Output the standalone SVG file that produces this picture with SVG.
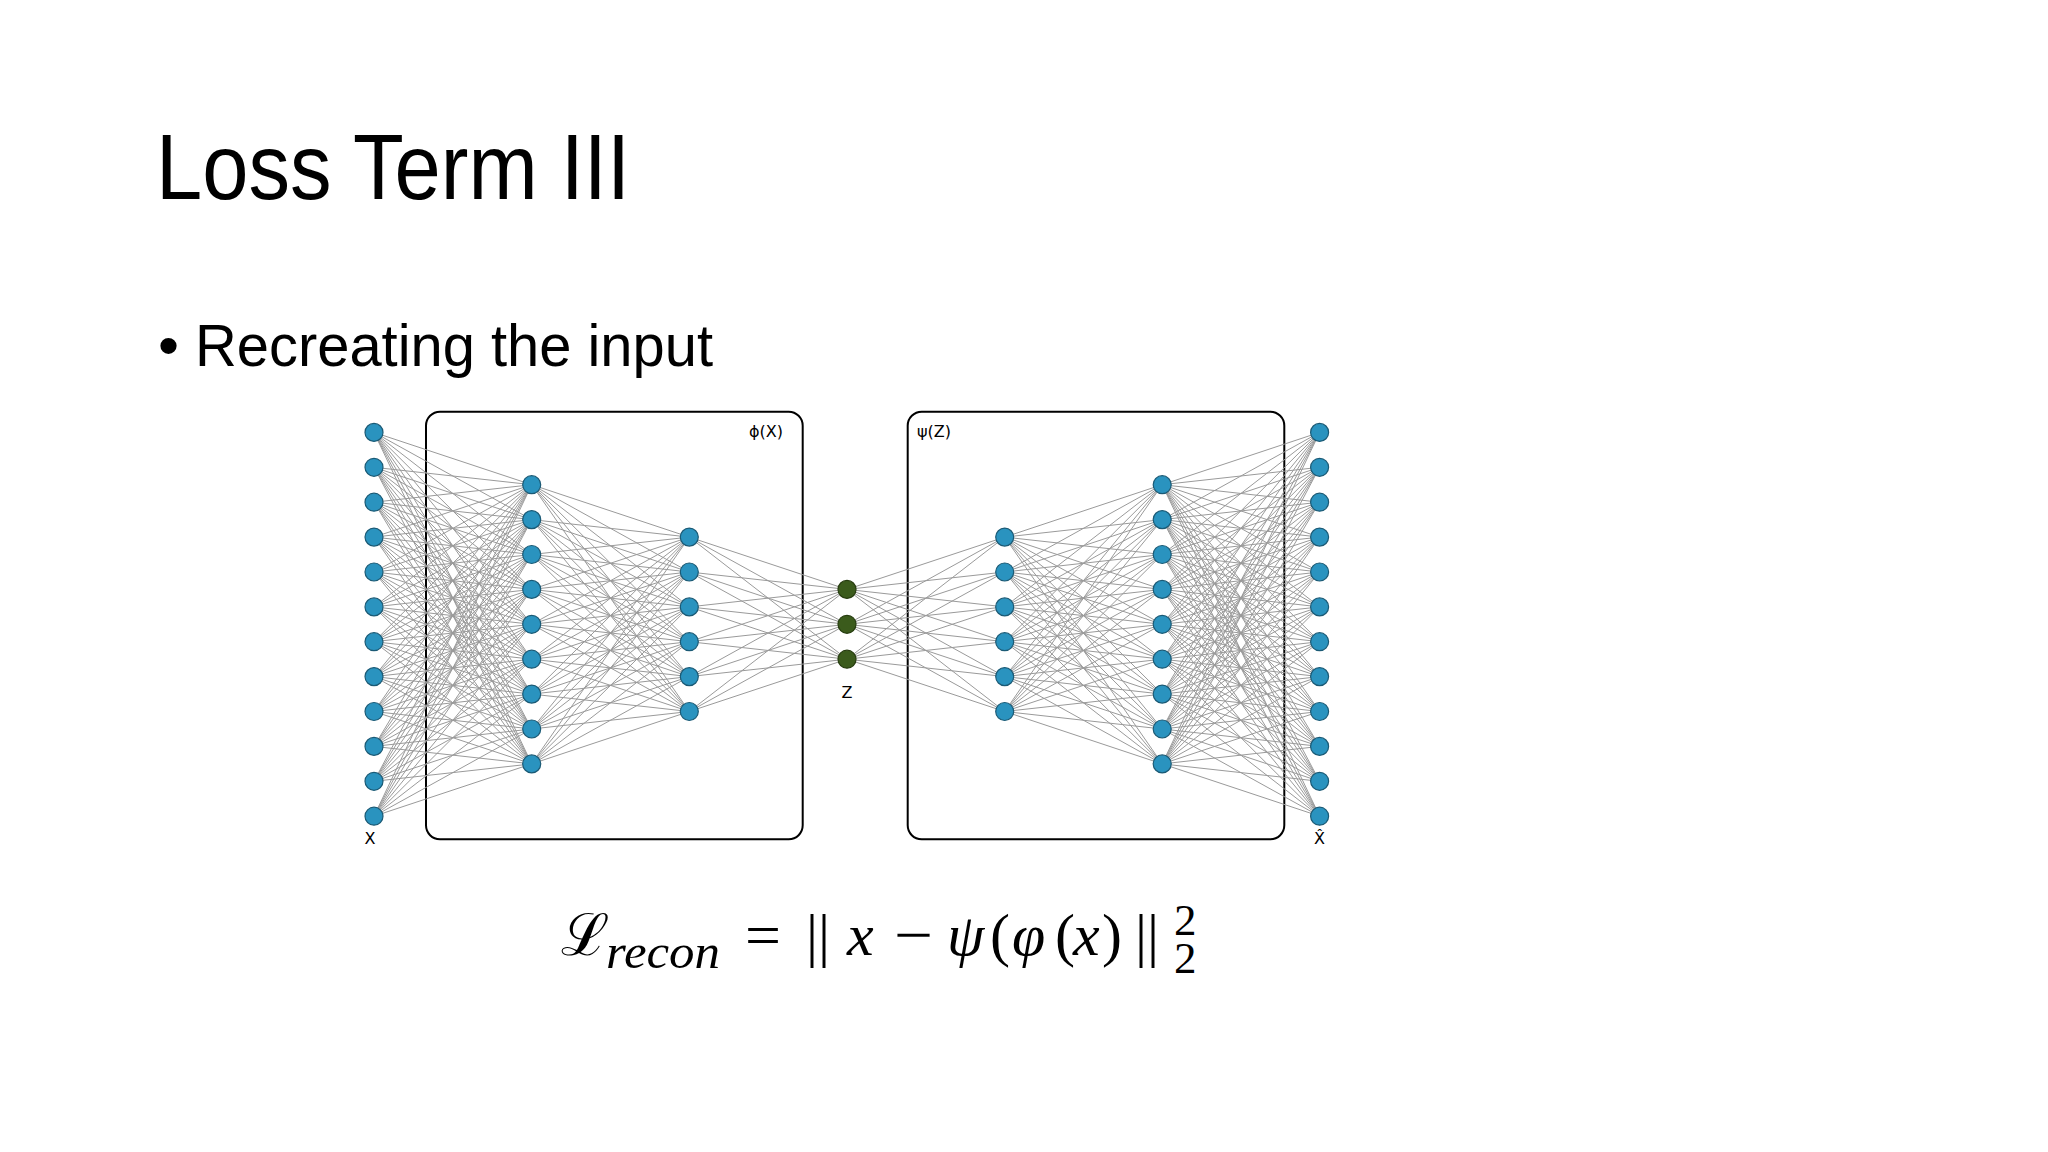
<svg xmlns="http://www.w3.org/2000/svg" width="2048" height="1152" viewBox="0 0 2048 1152">
<style>
.edge{fill:none;stroke:#9a9a9a;stroke-width:1}
.n{fill:#2a93bf;stroke:#1b5a75;stroke-width:1.2}
.z{fill:#3b5b1c;stroke:#273d10;stroke-width:1.2}
.box{fill:none;stroke:#000;stroke-width:2}
.lbl{font-family:"DejaVu Sans","Liberation Sans",sans-serif;font-size:16px;fill:#000}
.h{font-family:"Liberation Sans",Arial,sans-serif;fill:#000}
.m{font-family:"Liberation Serif","Times New Roman",serif;fill:#000;font-size:60px}
.i{font-style:italic}
.sub{font-size:48px}
.scr{font-size:45px}
</style>
<rect width="2048" height="1152" fill="#fff"/>
<text class="h" x="156" y="198.5" font-size="93" textLength="474" lengthAdjust="spacingAndGlyphs">Loss Term III</text>
<text class="h" x="158" y="365.7" font-size="60">•</text>
<text class="h" x="195" y="365.7" font-size="60" textLength="518" lengthAdjust="spacingAndGlyphs">Recreating the input</text>

<g id="encoder">
<rect class="box" x="426" y="411.7" width="376.7" height="427.6" rx="14"/>
<text class="lbl" x="783" y="436.5" text-anchor="end">ϕ(X)</text>
</g>
<g id="decoder">
<rect class="box" x="907.7" y="411.7" width="376.6" height="427.6" rx="14"/>
<text class="lbl" x="917" y="436.5">ψ(Z)</text>
</g>

<g id="connectors" class="edge">
<path d="M374 432.4L531.7 484.7M374 432.4L531.7 519.6M374 432.4L531.7 554.5M374 432.4L531.7 589.4M374 432.4L531.7 624.3M374 432.4L531.7 659.2M374 432.4L531.7 694.1M374 432.4L531.7 729M374 432.4L531.7 763.9"/>
<path d="M374 467.3L531.7 484.7M374 467.3L531.7 519.6M374 467.3L531.7 554.5M374 467.3L531.7 589.4M374 467.3L531.7 624.3M374 467.3L531.7 659.2M374 467.3L531.7 694.1M374 467.3L531.7 729M374 467.3L531.7 763.9"/>
<path d="M374 502.2L531.7 484.7M374 502.2L531.7 519.6M374 502.2L531.7 554.5M374 502.2L531.7 589.4M374 502.2L531.7 624.3M374 502.2L531.7 659.2M374 502.2L531.7 694.1M374 502.2L531.7 729M374 502.2L531.7 763.9"/>
<path d="M374 537.1L531.7 484.7M374 537.1L531.7 519.6M374 537.1L531.7 554.5M374 537.1L531.7 589.4M374 537.1L531.7 624.3M374 537.1L531.7 659.2M374 537.1L531.7 694.1M374 537.1L531.7 729M374 537.1L531.7 763.9"/>
<path d="M374 572L531.7 484.7M374 572L531.7 519.6M374 572L531.7 554.5M374 572L531.7 589.4M374 572L531.7 624.3M374 572L531.7 659.2M374 572L531.7 694.1M374 572L531.7 729M374 572L531.7 763.9"/>
<path d="M374 606.9L531.7 484.7M374 606.9L531.7 519.6M374 606.9L531.7 554.5M374 606.9L531.7 589.4M374 606.9L531.7 624.3M374 606.9L531.7 659.2M374 606.9L531.7 694.1M374 606.9L531.7 729M374 606.9L531.7 763.9"/>
<path d="M374 641.7L531.7 484.7M374 641.7L531.7 519.6M374 641.7L531.7 554.5M374 641.7L531.7 589.4M374 641.7L531.7 624.3M374 641.7L531.7 659.2M374 641.7L531.7 694.1M374 641.7L531.7 729M374 641.7L531.7 763.9"/>
<path d="M374 676.6L531.7 484.7M374 676.6L531.7 519.6M374 676.6L531.7 554.5M374 676.6L531.7 589.4M374 676.6L531.7 624.3M374 676.6L531.7 659.2M374 676.6L531.7 694.1M374 676.6L531.7 729M374 676.6L531.7 763.9"/>
<path d="M374 711.5L531.7 484.7M374 711.5L531.7 519.6M374 711.5L531.7 554.5M374 711.5L531.7 589.4M374 711.5L531.7 624.3M374 711.5L531.7 659.2M374 711.5L531.7 694.1M374 711.5L531.7 729M374 711.5L531.7 763.9"/>
<path d="M374 746.4L531.7 484.7M374 746.4L531.7 519.6M374 746.4L531.7 554.5M374 746.4L531.7 589.4M374 746.4L531.7 624.3M374 746.4L531.7 659.2M374 746.4L531.7 694.1M374 746.4L531.7 729M374 746.4L531.7 763.9"/>
<path d="M374 781.3L531.7 484.7M374 781.3L531.7 519.6M374 781.3L531.7 554.5M374 781.3L531.7 589.4M374 781.3L531.7 624.3M374 781.3L531.7 659.2M374 781.3L531.7 694.1M374 781.3L531.7 729M374 781.3L531.7 763.9"/>
<path d="M374 816.2L531.7 484.7M374 816.2L531.7 519.6M374 816.2L531.7 554.5M374 816.2L531.7 589.4M374 816.2L531.7 624.3M374 816.2L531.7 659.2M374 816.2L531.7 694.1M374 816.2L531.7 729M374 816.2L531.7 763.9"/>

<path d="M531.7 484.7L689.3 537.1M531.7 484.7L689.3 572M531.7 484.7L689.3 606.9M531.7 484.7L689.3 641.7M531.7 484.7L689.3 676.6M531.7 484.7L689.3 711.5"/>
<path d="M531.7 519.6L689.3 537.1M531.7 519.6L689.3 572M531.7 519.6L689.3 606.9M531.7 519.6L689.3 641.7M531.7 519.6L689.3 676.6M531.7 519.6L689.3 711.5"/>
<path d="M531.7 554.5L689.3 537.1M531.7 554.5L689.3 572M531.7 554.5L689.3 606.9M531.7 554.5L689.3 641.7M531.7 554.5L689.3 676.6M531.7 554.5L689.3 711.5"/>
<path d="M531.7 589.4L689.3 537.1M531.7 589.4L689.3 572M531.7 589.4L689.3 606.9M531.7 589.4L689.3 641.7M531.7 589.4L689.3 676.6M531.7 589.4L689.3 711.5"/>
<path d="M531.7 624.3L689.3 537.1M531.7 624.3L689.3 572M531.7 624.3L689.3 606.9M531.7 624.3L689.3 641.7M531.7 624.3L689.3 676.6M531.7 624.3L689.3 711.5"/>
<path d="M531.7 659.2L689.3 537.1M531.7 659.2L689.3 572M531.7 659.2L689.3 606.9M531.7 659.2L689.3 641.7M531.7 659.2L689.3 676.6M531.7 659.2L689.3 711.5"/>
<path d="M531.7 694.1L689.3 537.1M531.7 694.1L689.3 572M531.7 694.1L689.3 606.9M531.7 694.1L689.3 641.7M531.7 694.1L689.3 676.6M531.7 694.1L689.3 711.5"/>
<path d="M531.7 729L689.3 537.1M531.7 729L689.3 572M531.7 729L689.3 606.9M531.7 729L689.3 641.7M531.7 729L689.3 676.6M531.7 729L689.3 711.5"/>
<path d="M531.7 763.9L689.3 537.1M531.7 763.9L689.3 572M531.7 763.9L689.3 606.9M531.7 763.9L689.3 641.7M531.7 763.9L689.3 676.6M531.7 763.9L689.3 711.5"/>

<path d="M689.3 537.1L847 589.4M689.3 537.1L847 624.3M689.3 537.1L847 659.2"/>
<path d="M689.3 572L847 589.4M689.3 572L847 624.3M689.3 572L847 659.2"/>
<path d="M689.3 606.9L847 589.4M689.3 606.9L847 624.3M689.3 606.9L847 659.2"/>
<path d="M689.3 641.7L847 589.4M689.3 641.7L847 624.3M689.3 641.7L847 659.2"/>
<path d="M689.3 676.6L847 589.4M689.3 676.6L847 624.3M689.3 676.6L847 659.2"/>
<path d="M689.3 711.5L847 589.4M689.3 711.5L847 624.3M689.3 711.5L847 659.2"/>

<path d="M847 589.4L1004.7 537.1M847 589.4L1004.7 572M847 589.4L1004.7 606.9M847 589.4L1004.7 641.7M847 589.4L1004.7 676.6M847 589.4L1004.7 711.5"/>
<path d="M847 624.3L1004.7 537.1M847 624.3L1004.7 572M847 624.3L1004.7 606.9M847 624.3L1004.7 641.7M847 624.3L1004.7 676.6M847 624.3L1004.7 711.5"/>
<path d="M847 659.2L1004.7 537.1M847 659.2L1004.7 572M847 659.2L1004.7 606.9M847 659.2L1004.7 641.7M847 659.2L1004.7 676.6M847 659.2L1004.7 711.5"/>

<path d="M1004.7 537.1L1162.2 484.7M1004.7 537.1L1162.2 519.6M1004.7 537.1L1162.2 554.5M1004.7 537.1L1162.2 589.4M1004.7 537.1L1162.2 624.3M1004.7 537.1L1162.2 659.2M1004.7 537.1L1162.2 694.1M1004.7 537.1L1162.2 729M1004.7 537.1L1162.2 763.9"/>
<path d="M1004.7 572L1162.2 484.7M1004.7 572L1162.2 519.6M1004.7 572L1162.2 554.5M1004.7 572L1162.2 589.4M1004.7 572L1162.2 624.3M1004.7 572L1162.2 659.2M1004.7 572L1162.2 694.1M1004.7 572L1162.2 729M1004.7 572L1162.2 763.9"/>
<path d="M1004.7 606.9L1162.2 484.7M1004.7 606.9L1162.2 519.6M1004.7 606.9L1162.2 554.5M1004.7 606.9L1162.2 589.4M1004.7 606.9L1162.2 624.3M1004.7 606.9L1162.2 659.2M1004.7 606.9L1162.2 694.1M1004.7 606.9L1162.2 729M1004.7 606.9L1162.2 763.9"/>
<path d="M1004.7 641.7L1162.2 484.7M1004.7 641.7L1162.2 519.6M1004.7 641.7L1162.2 554.5M1004.7 641.7L1162.2 589.4M1004.7 641.7L1162.2 624.3M1004.7 641.7L1162.2 659.2M1004.7 641.7L1162.2 694.1M1004.7 641.7L1162.2 729M1004.7 641.7L1162.2 763.9"/>
<path d="M1004.7 676.6L1162.2 484.7M1004.7 676.6L1162.2 519.6M1004.7 676.6L1162.2 554.5M1004.7 676.6L1162.2 589.4M1004.7 676.6L1162.2 624.3M1004.7 676.6L1162.2 659.2M1004.7 676.6L1162.2 694.1M1004.7 676.6L1162.2 729M1004.7 676.6L1162.2 763.9"/>
<path d="M1004.7 711.5L1162.2 484.7M1004.7 711.5L1162.2 519.6M1004.7 711.5L1162.2 554.5M1004.7 711.5L1162.2 589.4M1004.7 711.5L1162.2 624.3M1004.7 711.5L1162.2 659.2M1004.7 711.5L1162.2 694.1M1004.7 711.5L1162.2 729M1004.7 711.5L1162.2 763.9"/>

<path d="M1162.2 484.7L1319.6 432.4M1162.2 484.7L1319.6 467.3M1162.2 484.7L1319.6 502.2M1162.2 484.7L1319.6 537.1M1162.2 484.7L1319.6 572M1162.2 484.7L1319.6 606.9M1162.2 484.7L1319.6 641.7M1162.2 484.7L1319.6 676.6M1162.2 484.7L1319.6 711.5M1162.2 484.7L1319.6 746.4M1162.2 484.7L1319.6 781.3M1162.2 484.7L1319.6 816.2"/>
<path d="M1162.2 519.6L1319.6 432.4M1162.2 519.6L1319.6 467.3M1162.2 519.6L1319.6 502.2M1162.2 519.6L1319.6 537.1M1162.2 519.6L1319.6 572M1162.2 519.6L1319.6 606.9M1162.2 519.6L1319.6 641.7M1162.2 519.6L1319.6 676.6M1162.2 519.6L1319.6 711.5M1162.2 519.6L1319.6 746.4M1162.2 519.6L1319.6 781.3M1162.2 519.6L1319.6 816.2"/>
<path d="M1162.2 554.5L1319.6 432.4M1162.2 554.5L1319.6 467.3M1162.2 554.5L1319.6 502.2M1162.2 554.5L1319.6 537.1M1162.2 554.5L1319.6 572M1162.2 554.5L1319.6 606.9M1162.2 554.5L1319.6 641.7M1162.2 554.5L1319.6 676.6M1162.2 554.5L1319.6 711.5M1162.2 554.5L1319.6 746.4M1162.2 554.5L1319.6 781.3M1162.2 554.5L1319.6 816.2"/>
<path d="M1162.2 589.4L1319.6 432.4M1162.2 589.4L1319.6 467.3M1162.2 589.4L1319.6 502.2M1162.2 589.4L1319.6 537.1M1162.2 589.4L1319.6 572M1162.2 589.4L1319.6 606.9M1162.2 589.4L1319.6 641.7M1162.2 589.4L1319.6 676.6M1162.2 589.4L1319.6 711.5M1162.2 589.4L1319.6 746.4M1162.2 589.4L1319.6 781.3M1162.2 589.4L1319.6 816.2"/>
<path d="M1162.2 624.3L1319.6 432.4M1162.2 624.3L1319.6 467.3M1162.2 624.3L1319.6 502.2M1162.2 624.3L1319.6 537.1M1162.2 624.3L1319.6 572M1162.2 624.3L1319.6 606.9M1162.2 624.3L1319.6 641.7M1162.2 624.3L1319.6 676.6M1162.2 624.3L1319.6 711.5M1162.2 624.3L1319.6 746.4M1162.2 624.3L1319.6 781.3M1162.2 624.3L1319.6 816.2"/>
<path d="M1162.2 659.2L1319.6 432.4M1162.2 659.2L1319.6 467.3M1162.2 659.2L1319.6 502.2M1162.2 659.2L1319.6 537.1M1162.2 659.2L1319.6 572M1162.2 659.2L1319.6 606.9M1162.2 659.2L1319.6 641.7M1162.2 659.2L1319.6 676.6M1162.2 659.2L1319.6 711.5M1162.2 659.2L1319.6 746.4M1162.2 659.2L1319.6 781.3M1162.2 659.2L1319.6 816.2"/>
<path d="M1162.2 694.1L1319.6 432.4M1162.2 694.1L1319.6 467.3M1162.2 694.1L1319.6 502.2M1162.2 694.1L1319.6 537.1M1162.2 694.1L1319.6 572M1162.2 694.1L1319.6 606.9M1162.2 694.1L1319.6 641.7M1162.2 694.1L1319.6 676.6M1162.2 694.1L1319.6 711.5M1162.2 694.1L1319.6 746.4M1162.2 694.1L1319.6 781.3M1162.2 694.1L1319.6 816.2"/>
<path d="M1162.2 729L1319.6 432.4M1162.2 729L1319.6 467.3M1162.2 729L1319.6 502.2M1162.2 729L1319.6 537.1M1162.2 729L1319.6 572M1162.2 729L1319.6 606.9M1162.2 729L1319.6 641.7M1162.2 729L1319.6 676.6M1162.2 729L1319.6 711.5M1162.2 729L1319.6 746.4M1162.2 729L1319.6 781.3M1162.2 729L1319.6 816.2"/>
<path d="M1162.2 763.9L1319.6 432.4M1162.2 763.9L1319.6 467.3M1162.2 763.9L1319.6 502.2M1162.2 763.9L1319.6 537.1M1162.2 763.9L1319.6 572M1162.2 763.9L1319.6 606.9M1162.2 763.9L1319.6 641.7M1162.2 763.9L1319.6 676.6M1162.2 763.9L1319.6 711.5M1162.2 763.9L1319.6 746.4M1162.2 763.9L1319.6 781.3M1162.2 763.9L1319.6 816.2"/>
</g>

<g id="input-layer">
<g id="x1"><circle class="n" cx="374" cy="432.4" r="9"/></g>
<g id="x2"><circle class="n" cx="374" cy="467.3" r="9"/></g>
<g id="x3"><circle class="n" cx="374" cy="502.2" r="9"/></g>
<g id="x4"><circle class="n" cx="374" cy="537.1" r="9"/></g>
<g id="x5"><circle class="n" cx="374" cy="572" r="9"/></g>
<g id="x6"><circle class="n" cx="374" cy="606.9" r="9"/></g>
<g id="x7"><circle class="n" cx="374" cy="641.7" r="9"/></g>
<g id="x8"><circle class="n" cx="374" cy="676.6" r="9"/></g>
<g id="x9"><circle class="n" cx="374" cy="711.5" r="9"/></g>
<g id="x10"><circle class="n" cx="374" cy="746.4" r="9"/></g>
<g id="x11"><circle class="n" cx="374" cy="781.3" r="9"/></g>
<g id="x12"><circle class="n" cx="374" cy="816.2" r="9"/></g>
<text class="lbl" x="370" y="844" text-anchor="middle">X</text>
</g>

<g id="encoder-hidden1">
<g id="e1_1"><circle class="n" cx="531.7" cy="484.7" r="9"/></g>
<g id="e1_2"><circle class="n" cx="531.7" cy="519.6" r="9"/></g>
<g id="e1_3"><circle class="n" cx="531.7" cy="554.5" r="9"/></g>
<g id="e1_4"><circle class="n" cx="531.7" cy="589.4" r="9"/></g>
<g id="e1_5"><circle class="n" cx="531.7" cy="624.3" r="9"/></g>
<g id="e1_6"><circle class="n" cx="531.7" cy="659.2" r="9"/></g>
<g id="e1_7"><circle class="n" cx="531.7" cy="694.1" r="9"/></g>
<g id="e1_8"><circle class="n" cx="531.7" cy="729" r="9"/></g>
<g id="e1_9"><circle class="n" cx="531.7" cy="763.9" r="9"/></g>
</g>

<g id="encoder-hidden2">
<g id="e2_1"><circle class="n" cx="689.3" cy="537.1" r="9"/></g>
<g id="e2_2"><circle class="n" cx="689.3" cy="572" r="9"/></g>
<g id="e2_3"><circle class="n" cx="689.3" cy="606.9" r="9"/></g>
<g id="e2_4"><circle class="n" cx="689.3" cy="641.7" r="9"/></g>
<g id="e2_5"><circle class="n" cx="689.3" cy="676.6" r="9"/></g>
<g id="e2_6"><circle class="n" cx="689.3" cy="711.5" r="9"/></g>
</g>

<g id="latent">
<g id="z1"><circle class="z" cx="847" cy="589.4" r="9"/></g>
<g id="z2"><circle class="z" cx="847" cy="624.3" r="9"/></g>
<g id="z3"><circle class="z" cx="847" cy="659.2" r="9"/></g>
<text class="lbl" x="847" y="698" text-anchor="middle">Z</text>
</g>

<g id="decoder-hidden1">
<g id="d1_1"><circle class="n" cx="1004.7" cy="537.1" r="9"/></g>
<g id="d1_2"><circle class="n" cx="1004.7" cy="572" r="9"/></g>
<g id="d1_3"><circle class="n" cx="1004.7" cy="606.9" r="9"/></g>
<g id="d1_4"><circle class="n" cx="1004.7" cy="641.7" r="9"/></g>
<g id="d1_5"><circle class="n" cx="1004.7" cy="676.6" r="9"/></g>
<g id="d1_6"><circle class="n" cx="1004.7" cy="711.5" r="9"/></g>
</g>

<g id="decoder-hidden2">
<g id="d2_1"><circle class="n" cx="1162.2" cy="484.7" r="9"/></g>
<g id="d2_2"><circle class="n" cx="1162.2" cy="519.6" r="9"/></g>
<g id="d2_3"><circle class="n" cx="1162.2" cy="554.5" r="9"/></g>
<g id="d2_4"><circle class="n" cx="1162.2" cy="589.4" r="9"/></g>
<g id="d2_5"><circle class="n" cx="1162.2" cy="624.3" r="9"/></g>
<g id="d2_6"><circle class="n" cx="1162.2" cy="659.2" r="9"/></g>
<g id="d2_7"><circle class="n" cx="1162.2" cy="694.1" r="9"/></g>
<g id="d2_8"><circle class="n" cx="1162.2" cy="729" r="9"/></g>
<g id="d2_9"><circle class="n" cx="1162.2" cy="763.9" r="9"/></g>
</g>

<g id="output-layer">
<g id="y1"><circle class="n" cx="1319.6" cy="432.4" r="9"/></g>
<g id="y2"><circle class="n" cx="1319.6" cy="467.3" r="9"/></g>
<g id="y3"><circle class="n" cx="1319.6" cy="502.2" r="9"/></g>
<g id="y4"><circle class="n" cx="1319.6" cy="537.1" r="9"/></g>
<g id="y5"><circle class="n" cx="1319.6" cy="572" r="9"/></g>
<g id="y6"><circle class="n" cx="1319.6" cy="606.9" r="9"/></g>
<g id="y7"><circle class="n" cx="1319.6" cy="641.7" r="9"/></g>
<g id="y8"><circle class="n" cx="1319.6" cy="676.6" r="9"/></g>
<g id="y9"><circle class="n" cx="1319.6" cy="711.5" r="9"/></g>
<g id="y10"><circle class="n" cx="1319.6" cy="746.4" r="9"/></g>
<g id="y11"><circle class="n" cx="1319.6" cy="781.3" r="9"/></g>
<g id="y12"><circle class="n" cx="1319.6" cy="816.2" r="9"/></g>
<text class="lbl" x="1319.6" y="844" text-anchor="middle">X̂</text>
</g>

<g id="formula">
<text x="561" y="955" font-family="DejaVu Serif,'Liberation Serif',serif" font-size="58">ℒ</text>
<text class="m i sub" x="606" y="968" textLength="114" lengthAdjust="spacingAndGlyphs">recon</text>
<text class="m" x="745" y="955" textLength="36" lengthAdjust="spacingAndGlyphs">=</text>
<text class="m" x="806" y="955">||</text>
<text class="m i" x="847" y="955">x</text>
<text class="m" x="894" y="955" textLength="39" lengthAdjust="spacingAndGlyphs">−</text>
<text class="m i" x="947" y="955">ψ</text>
<text class="m" x="990" y="955">(</text>
<text class="m i" x="1012" y="955">φ</text>
<text class="m" x="1055" y="955">(</text>
<text class="m i" x="1073" y="955">x</text>
<text class="m" x="1102" y="955">)</text>
<text class="m" x="1135" y="955">||</text>
<text class="m scr"><tspan x="1174" y="935">2</tspan><tspan x="1174" y="973">2</tspan></text>
</g>
</svg>
